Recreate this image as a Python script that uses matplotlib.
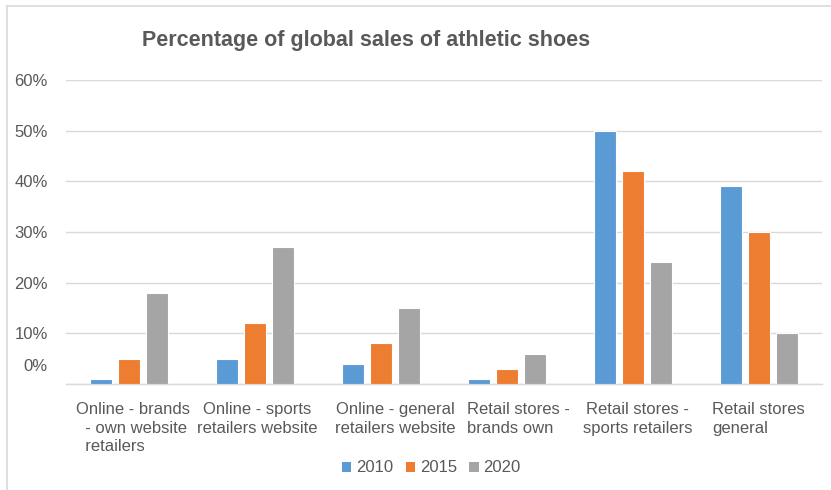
import numpy as np
import matplotlib.pyplot as plt
import matplotlib.transforms as mtransforms
from matplotlib.lines import Line2D
from matplotlib.patches import Patch

plt.rcParams['font.family'] = ['Liberation Sans', 'DejaVu Sans']

# data (percent)
categories = [
    "Online - brands\n  - own website\n  retailers",
    "Online - sports\nretailers website",
    "Online - general\nretailers website",
    "Retail stores -\nbrands own",
    "Retail stores -\nsports retailers",
    "Retail stores\ngeneral",
]
years = ["2010", "2015", "2020"]
sales_2010 = [1, 5, 4, 1, 50, 39]
sales_2015 = [5, 12, 8, 3, 42, 30]
sales_2020 = [18, 27, 15, 6, 24, 10]
y_ticks = [0, 10, 20, 30, 40, 50, 60]

colors = ['#5B9BD5', '#ED7D31', '#A5A5A5']
text_color = '#595959'
grid_color = '#D9D9D9'

fig = plt.figure(figsize=(8.31, 4.90), dpi=100)
ax = fig.add_axes([0.0794, 0.2163, 0.9096, 0.6204])

x = np.arange(len(categories))
step = 0.222
width = 0.175
series = [sales_2010, sales_2015, sales_2020]
for i, (vals, col) in enumerate(zip(series, colors)):
    ax.bar(x + (i - 1) * step, vals, width, color=col, edgecolor='white',
           linewidth=0.8, label=years[i], zorder=3)

ax.set_xlim(-0.5, len(categories) - 0.5)
ax.set_ylim(0, 60)
ax.set_yticks(y_ticks)
ax.set_yticklabels([f"{v}%" for v in y_ticks])
ax.yaxis.grid(True, color=grid_color, linewidth=1, zorder=0)
for s in ['top', 'right', 'left']:
    ax.spines[s].set_visible(False)
ax.spines['bottom'].set_color(grid_color)
ax.spines['bottom'].set_linewidth(1)
ax.tick_params(axis='both', length=0, labelsize=12, labelcolor=text_color)
ax.tick_params(axis='y', pad=13)
ax.tick_params(axis='x', pad=13)

ax.set_xticks(x)
ax.set_xticklabels(categories, va='top')

# nudge labels the way the original lays them out
aligns = ['left', 'center', 'center', 'left', 'center', 'left']
shifts = [4, 2, 14, 12, 5, 0]
for lab, al, dx in zip(ax.get_xticklabels(), aligns, shifts):
    lab.set_multialignment(al)
    lab.set_linespacing(1.3)
    lab.set_transform(lab.get_transform() +
                      mtransforms.ScaledTranslation(dx / 100, 0, fig.dpi_scale_trans))

# the 0% label sits above the baseline in the original
zero_lab = ax.get_yticklabels()[0]
zero_lab.set_transform(zero_lab.get_transform() +
                       mtransforms.ScaledTranslation(0, 19 / 100, fig.dpi_scale_trans))

fig.text(0.441, 0.918, "Percentage of global sales of athletic shoes",
         ha='center', va='center', fontsize=15.5, fontweight='bold', color=text_color)

handles = [Patch(facecolor=c, edgecolor='none') for c in colors]
fig.legend(handles, years, loc='center', bbox_to_anchor=(0.519, 0.045), ncol=3,
           frameon=False, fontsize=12, handlelength=0.55, handleheight=0.55,
           handletextpad=0.3, columnspacing=0.75, labelcolor=text_color)

# outer chart frame (only top/left visible in the crop)
fig.add_artist(Line2D([6.5 / 831, 6.5 / 831], [0, 1 - 6.5 / 490],
                      transform=fig.transFigure, color=grid_color, linewidth=1.2))
fig.add_artist(Line2D([6.5 / 831, 1], [1 - 6.5 / 490, 1 - 6.5 / 490],
                      transform=fig.transFigure, color=grid_color, linewidth=1.2))

fig.savefig('out.png', dpi=100)
